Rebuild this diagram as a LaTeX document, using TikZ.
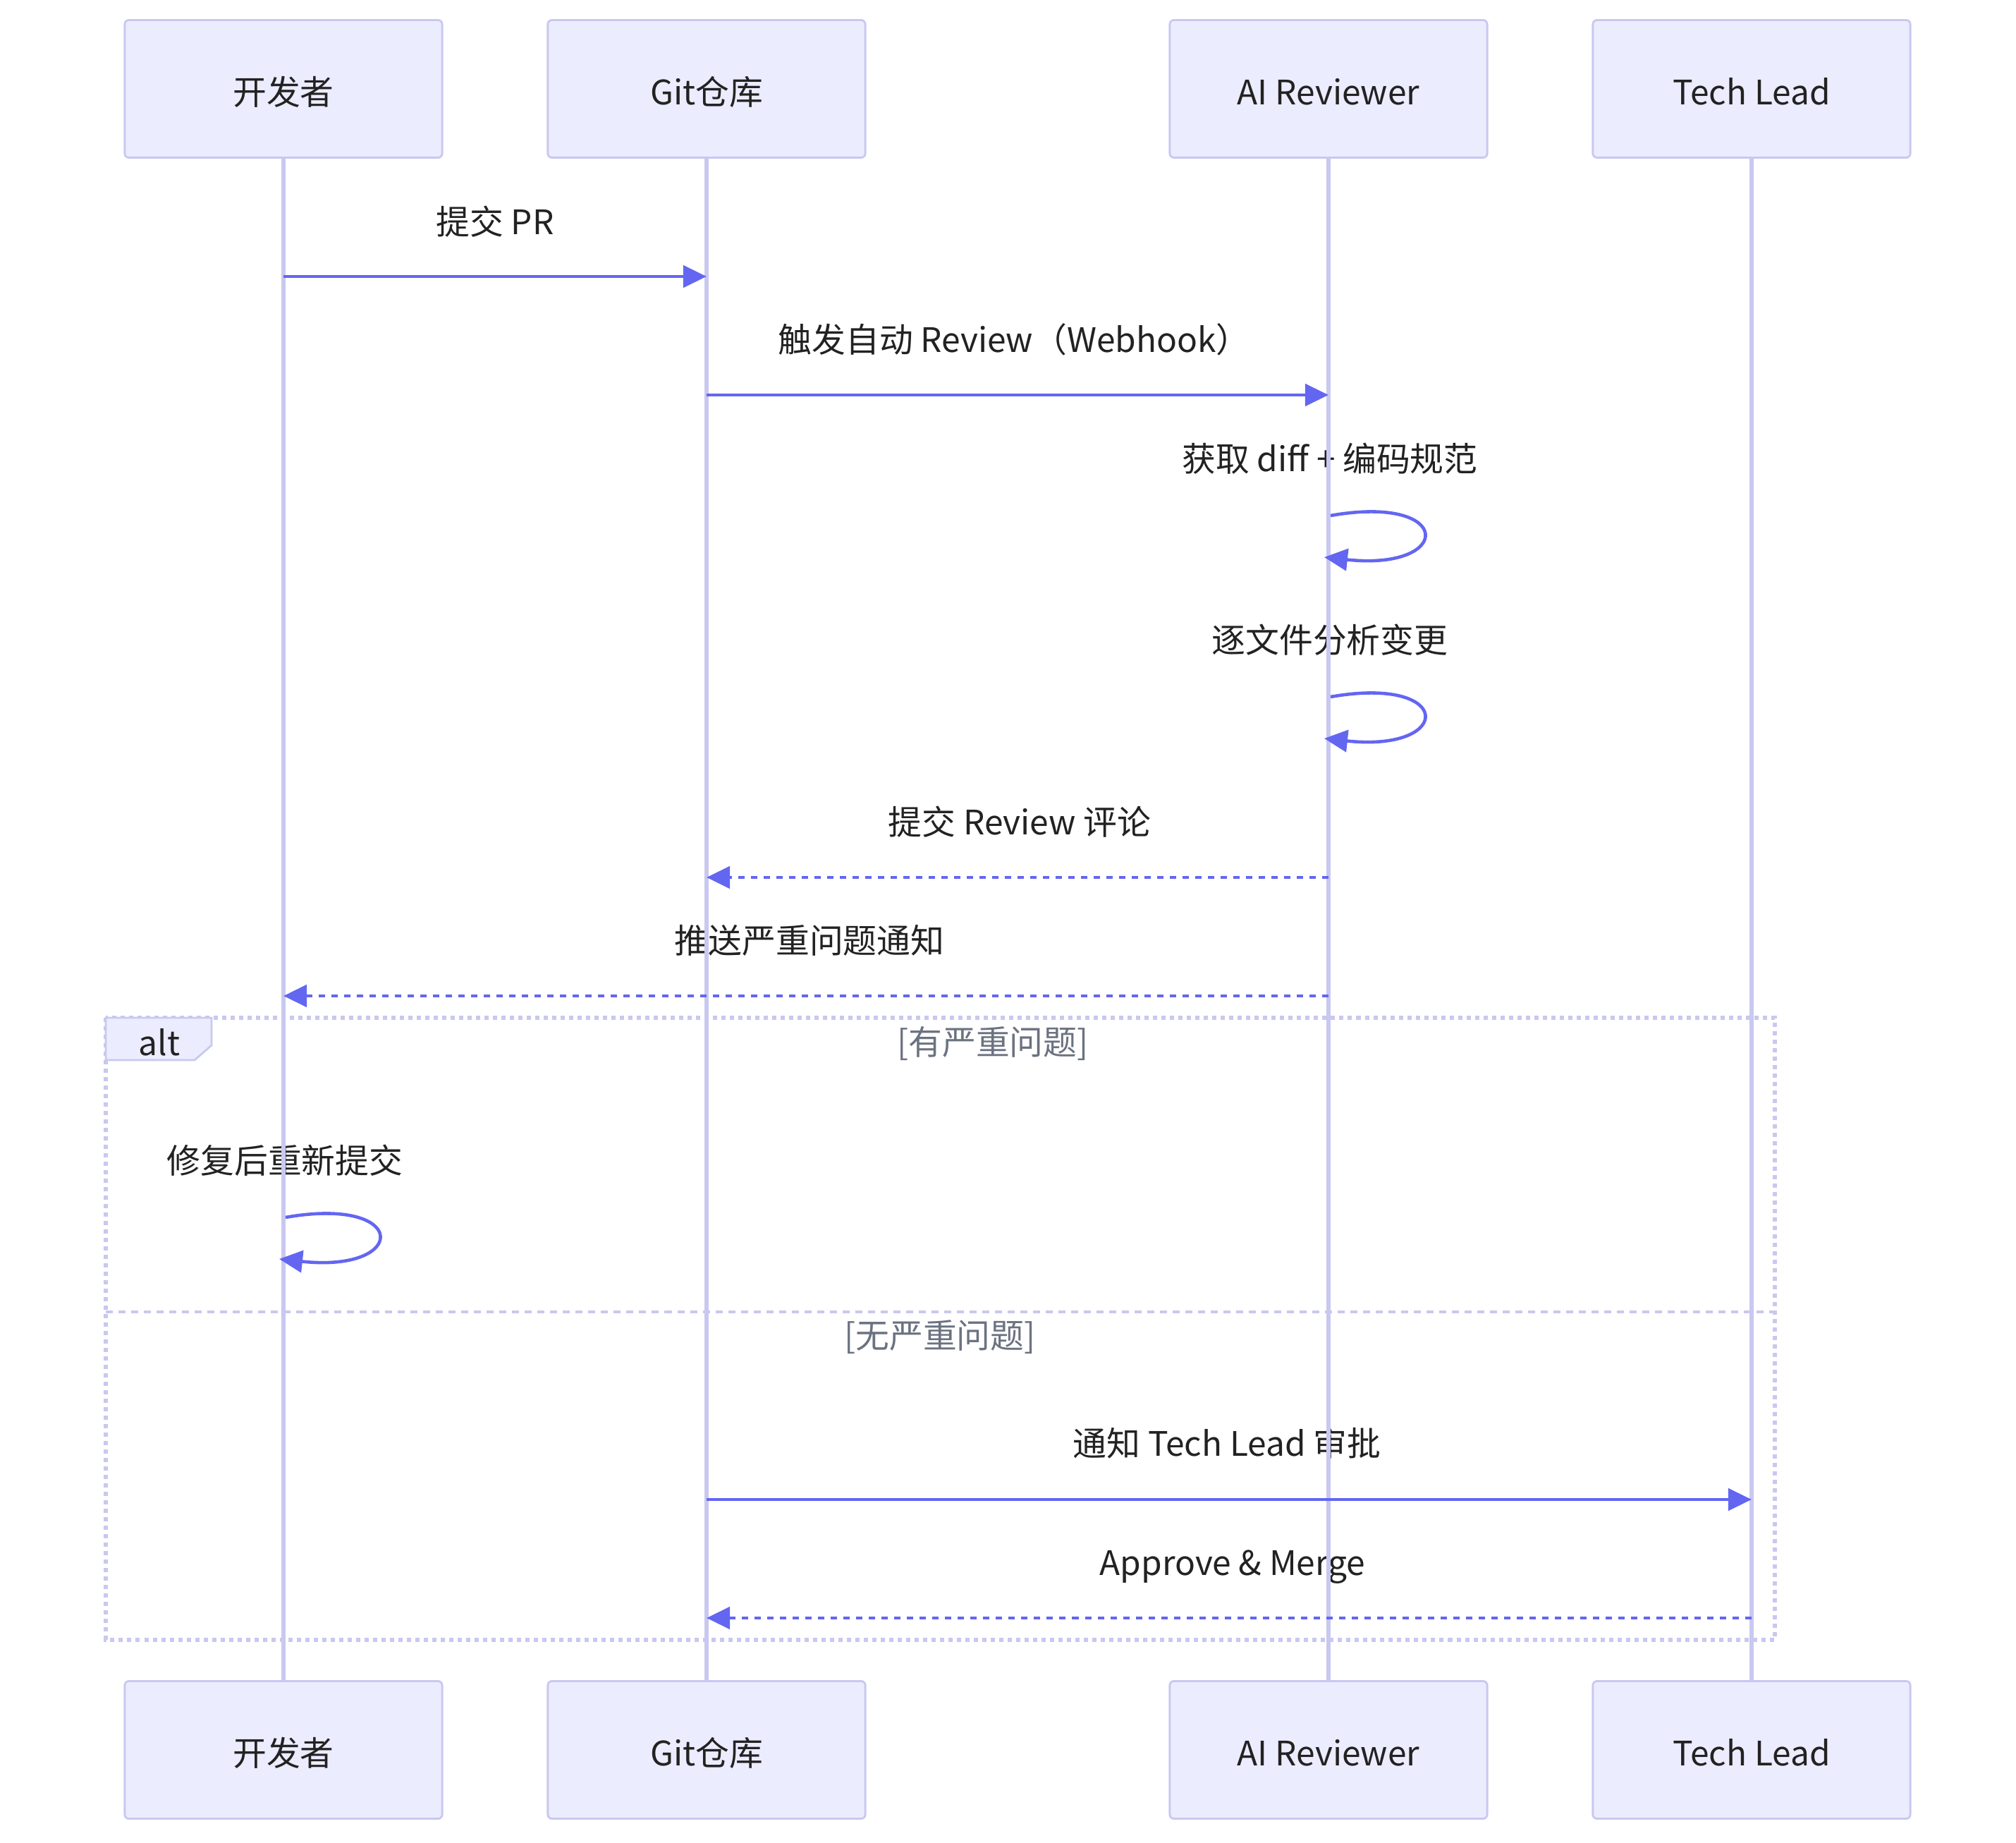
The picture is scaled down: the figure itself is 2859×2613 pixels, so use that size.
\documentclass[tikz,border=0pt]{standalone}
\usepackage{fontspec}
\setmainfont{Noto Sans CJK SC}
\usetikzlibrary{arrows.meta}
\definecolor{actorfill}{RGB}{236,236,255}
\definecolor{actorline}{RGB}{200,200,240}
\definecolor{msgcol}{RGB}{99,102,241}
\definecolor{txtcol}{RGB}{34,34,34}
\definecolor{condcol}{RGB}{107,114,128}
\tikzset{
  actor/.style={draw=actorline, fill=actorfill, line width=0.8pt, rounded corners=0.06cm,
    minimum width=4.5cm, minimum height=1.95cm, text height=0.5cm, text depth=0.05cm,
    font=\fontsize{13.6}{16}\selectfont, text=txtcol},
  lifeline/.style={draw=actorline, line width=1.9pt},
  msg/.style={draw=msgcol, line width=1.3pt, -{Triangle[length=0.33cm,width=0.31cm]}},
  reply/.style={msg, dash pattern=on 0.09cm off 0.09cm},
  lbl/.style={font=\fontsize{13.6}{16}\selectfont, text=txtcol, inner sep=0pt},
  cond/.style={font=\fontsize{13.6}{16}\selectfont, text=condcol, inner sep=0pt},
  frame/.style={draw=actorline, line width=1.5pt, dash pattern=on 0.06cm off 0.06cm},
  divider/.style={draw=actorline, line width=1.4pt, dash pattern=on 0.1cm off 0.08cm},
  tab/.style={draw=actorline, fill=actorfill, line width=0.8pt}
}
\begin{document}
\begin{tikzpicture}[x=0.01cm, y=-0.01cm]
\useasboundingbox (0,0) rectangle (2859,2613);
% participants, top and bottom
\node[actor] (dev) at (402,126) {开发者};
\node[actor] (git) at (1002,126) {Git仓库};
\node[actor] (ai) at (1884,126) {AI Reviewer};
\node[actor] (lead) at (2484,126) {Tech Lead};
\node[actor] (dev2) at (402,2481) {开发者};
\node[actor] (git2) at (1002,2481) {Git仓库};
\node[actor] (ai2) at (1884,2481) {AI Reviewer};
\node[actor] (lead2) at (2484,2481) {Tech Lead};

% alt frame
\draw[frame] (150,1443) rectangle (2517,2325);
\draw[divider] (150,1860) -- (2517,1860);
\draw[tab] (150,1443) -- (300,1443) -- (300,1482) -- (276,1503) -- (150,1503) -- cycle;
\node[lbl] (alt) at (226,1478) {alt};
\node[cond] (c1) at (1408,1479) {[有严重问题]};
\node[cond] (c2) at (1333,1896) {[无严重问题]};

% message texts
\node[lbl] (t1) at (702,314) {提交 PR};
\node[lbl] (t2) at (1438,481) {触发自动 Review（Webhook）};
\node[lbl] (t3) at (1886,650) {获取 diff + 编码规范};
\node[lbl] (t4) at (1886,907) {逐文件分析变更};
\node[lbl] (t5) at (1446,1165) {提交 Review 评论};
\node[lbl] (t6) at (1148,1333) {推送严重问题通知};
\node[lbl] (t7) at (404,1645) {修复后重新提交};
\node[lbl] (t8) at (1740,2046) {通知 Tech Lead 审批};
\node[lbl] (t9) at (1748,2222) {Approve \& Merge};

% lifelines
\draw[lifeline] (dev.south) -- (dev2.north);
\draw[lifeline] (git.south) -- (git2.north);
\draw[lifeline] (ai.south) -- (ai2.north);
\draw[lifeline] (lead.south) -- (lead2.north);

% messages
\coordinate (m1) at (0,392);
\coordinate (m2) at (0,560);
\coordinate (s1a) at (0,731);
\coordinate (s1b) at (0,790);
\coordinate (s2a) at (0,988);
\coordinate (s2b) at (0,1047);
\coordinate (m5) at (0,1244);
\coordinate (m6) at (0,1412);
\coordinate (s3a) at (0,1726);
\coordinate (s3b) at (0,1785);
\coordinate (m8) at (0,2126);
\coordinate (m9) at (0,2294);
\draw[msg] (dev |- m1) -- (git |- m1);
\draw[msg] (git |- m2) -- (ai |- m2);
\draw[msg] ([xshift=0.03cm]ai |- s1a) .. controls +(176,-31) and +(184,20) .. ([xshift=-0.06cm]ai |- s1b);
\draw[msg] ([xshift=0.03cm]ai |- s2a) .. controls +(176,-31) and +(184,20) .. ([xshift=-0.06cm]ai |- s2b);
\draw[reply] (ai |- m5) -- (git |- m5);
\draw[reply] (ai |- m6) -- (dev |- m6);
\draw[msg] ([xshift=0.03cm]dev |- s3a) .. controls +(176,-31) and +(184,20) .. ([xshift=-0.06cm]dev |- s3b);
\draw[msg] (git |- m8) -- (lead |- m8);
\draw[reply] (lead |- m9) -- (git |- m9);
\end{tikzpicture}
\end{document}
